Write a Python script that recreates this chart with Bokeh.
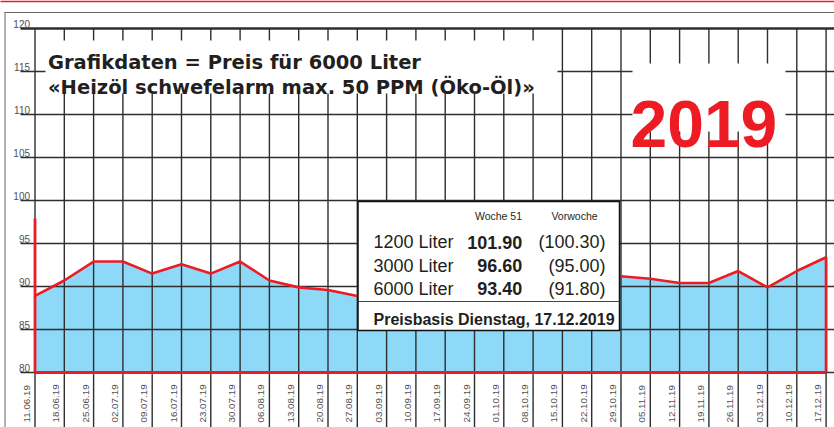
import numpy as np
from bokeh.plotting import figure
from bokeh.models import Range1d
from bokeh.core.properties import value
from bokeh.embed import file_html
from bokeh.resources import INLINE

# ---------------- data ----------------
dates = ["11.06.19", "18.06.19", "25.06.19", "02.07.19", "09.07.19", "16.07.19",
         "23.07.19", "30.07.19", "06.08.19", "13.08.19", "20.08.19", "27.08.19",
         "03.09.19", "10.09.19", "17.09.19", "24.09.19", "01.10.19", "08.10.19",
         "15.10.19", "22.10.19", "29.10.19", "05.11.19", "12.11.19", "19.11.19",
         "26.11.19", "03.12.19", "10.12.19", "17.12.19"]
price_6000 = [88.9, 90.7, 92.9, 92.9, 91.5, 92.6, 91.5, 92.9, 90.7, 89.9,
              89.6, 88.9, 89.6, 90.4, 91.5, 91.2, 91.0, 92.0, 91.4, 91.0,
              91.2, 90.9, 90.4, 90.4, 91.8, 89.9, 91.8, 93.4]
start_marker_top = 97.9
y_ticks = [80, 85, 90, 95, 100, 105, 110, 115, 120]
y_labels = ["80", "85", "90", "95", "100", "105", "110", "115", "120"]

title_lines = ["Grafikdaten = Preis für 6000 Liter",
               "«Heizöl schwefelarm max. 50 PPM (Öko-Öl)»"]
year_text = "2019"
col_heads = ["Woche 51", "Vorwoche"]
row_names = ["1200 Liter", "3000 Liter", "6000 Liter"]
week_vals = ["101.90", "96.60", "93.40"]
prev_vals = ["(100.30)", "(95.00)", "(91.80)"]
basis_text = "Preisbasis Dienstag, 17.12.2019"

# ---------------- layout ----------------
W, H = 834, 427
X0, DX = 34.5, 29.3    # pixel of first week, pixels per week
Y80, DY = 372.0, 8.6   # pixel of value 80, pixels per unit

RED = "#ED1C24"
BLUE = "#8ED8F8"
GRID = "#2e2e2e"
INK = "#231f20"
GREY_TXT = "#505050"


def rx(X):
    return (X - X0) / DX


def ry(Y):
    return 80 + (Y80 - Y) / DY


n = len(dates)
idx = list(range(n))

p = figure(width=W, height=H,
           x_range=Range1d(rx(0), rx(W)),
           y_range=Range1d(ry(H), ry(0)),
           min_border=0, toolbar_location=None, output_backend="svg",
           x_axis_type=None, y_axis_type=None, outline_line_color=None,
           background_fill_color="white", border_fill_color="white")

# area fill
p.varea(x=idx, y1=[y_ticks[0]] * n, y2=price_6000, fill_color=BLUE)

# grid lines
hy = y_ticks[:-1]
p.segment(x0=[rx(20)] * len(hy), y0=hy, x1=[rx(W + 2)] * len(hy), y1=hy,
          line_color=GRID, line_width=1.4)
p.segment(x0=[rx(20)], y0=[y_ticks[-1]], x1=[rx(W + 2)], y1=[y_ticks[-1]],
          line_color=GRID, line_width=2.4)
p.segment(x0=idx, y0=[y_ticks[-1]] * n, x1=idx, y1=[ry(H + 2)] * n,
          line_color=GRID, line_width=1.4)

# frame lines
p.segment(x0=[rx(4)], y0=[ry(12)], x1=[rx(W + 2)], y1=[ry(12)],
          line_color="#666666", line_width=1)
p.segment(x0=[rx(4.5)], y0=[ry(12)], x1=[rx(4.5)], y1=[ry(H + 2)],
          line_color="#666666", line_width=1)
p.segment(x0=[rx(-2)], y0=[ry(0.8)], x1=[rx(W + 2)], y1=[ry(0.8)],
          line_color=RED, line_width=1.8)

# red data line and bounds
p.segment(x0=[idx[0], idx[0], idx[-1]], y0=[y_ticks[0], y_ticks[0], y_ticks[0]],
          x1=[idx[-1], idx[0], idx[-1]], y1=[y_ticks[0], start_marker_top, price_6000[-1]],
          line_color=RED, line_width=2.8)
p.line(x=idx, y=price_6000, line_color=RED, line_width=2.6)

# y labels
p.text(x=[rx(29.5)] * len(y_ticks), y=[t + 4.2 / DY for t in y_ticks], text=y_labels,
       text_align="right", text_baseline="alphabetic",
       text_font=value("Liberation Sans"), text_font_size="10px", text_color=GREY_TXT)

# x labels
p.text(x=[i - 8 / DX for i in idx], y=[ry(422)] * n, text=dates, angle=np.pi / 2,
       text_align="left", text_baseline="middle",
       text_font=value("Liberation Sans"), text_font_size="9.8px", text_color=GREY_TXT)

# white boxes
p.quad(left=[rx(45), rx(632)], right=[rx(557), rx(785)],
       top=[ry(40), ry(63)], bottom=[ry(93), ry(131)],
       fill_color="white", line_color=None)

# title
p.text(x=[rx(47.5)] * 2, y=[ry(62.3), ry(87.0)], text=title_lines,
       text_align="left", text_baseline="alphabetic",
       text_font=value("DejaVu Sans"), text_font_style="bold",
       text_font_size="19.5px", text_color=INK)

# year
p.text(x=[rx(630)], y=[ry(123.3)], text=[year_text],
       text_align="left", text_baseline="alphabetic",
       text_font=value("Liberation Sans"), text_font_style="bold",
       text_font_size="66px", text_color=RED)

# info box
p.quad(left=[rx(357.5)], right=[rx(619)], top=[ry(201)], bottom=[ry(330)],
       fill_color="white", line_color="#111111", line_width=1.5)
p.segment(x0=[rx(357.5)], y0=[ry(301)], x1=[rx(619)], y1=[ry(301)],
          line_color="#444444", line_width=1)

p.text(x=[rx(498), rx(574)], y=[ry(215)] * 2, text=col_heads,
       text_align="center", text_baseline="alphabetic",
       text_font=value("Liberation Sans"), text_font_size="10.5px", text_color=INK)

row_y = [ry(241.7), ry(265.0), ry(288.3)]
p.text(x=[rx(373)] * 3, y=row_y, text=row_names,
       text_align="left", text_baseline="alphabetic",
       text_font=value("Liberation Sans"), text_font_size="18px", text_color=INK)
p.text(x=[rx(521.7)] * 3, y=row_y, text=week_vals,
       text_align="right", text_baseline="alphabetic",
       text_font=value("Liberation Sans"), text_font_style="bold",
       text_font_size="18px", text_color=INK)
p.text(x=[rx(605)] * 3, y=row_y, text=prev_vals,
       text_align="right", text_baseline="alphabetic",
       text_font=value("Liberation Sans"), text_font_size="18px", text_color=INK)
p.text(x=[rx(373)], y=[ry(319)], text=[basis_text],
       text_align="left", text_baseline="alphabetic",
       text_font=value("Liberation Sans"), text_font_style="bold",
       text_font_size="16px", text_color=INK)

open("out.html", "w").write(file_html(p, INLINE))
